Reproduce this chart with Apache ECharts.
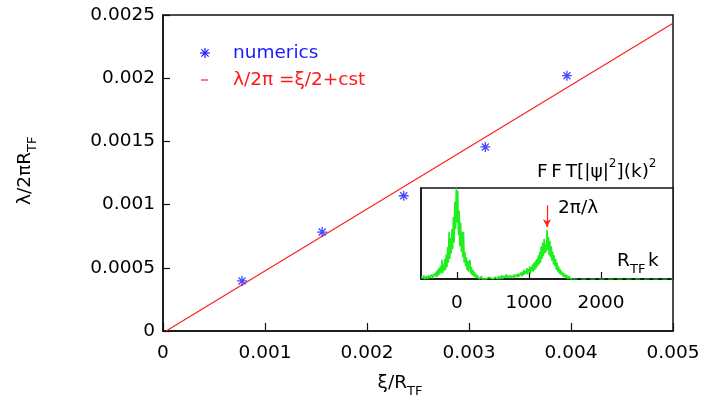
<!DOCTYPE html>
<html>
<head>
<meta charset="utf-8">
<script src="https://cdn.jsdelivr.net/npm/echarts@6/dist/echarts.min.js"></script>
<style>html,body{margin:0;padding:0;background:#fff}#c{width:710px;height:405px}</style>
</head>
<body>
<div id="c"></div>
<script>
// Main plot data
const xiValues = [0.000775, 0.00156, 0.00236, 0.00316, 0.00396];
const lambdaValues = [0.000396, 0.000783, 0.00107, 0.001456, 0.00202];
const fitX = [0.00003, 0.005];
const fitY = [0, 0.002435];

// Inset spectrum data (R_TF k from -500 in steps of 10)
const specStart = -500;
const specStep = 10;
const specValues = [
  0.02,0.00,0.03,0.01,0.04,0.00,0.02,0.01,0.03,0.00, 0.02,0.04,0.01,0.03,0.00,0.05,0.01,0.03,0.02,0.06,
  0.03,0.08,0.02,0.10,0.04,0.12,0.05,0.14,0.07,0.21, 0.06,0.16,0.09,0.22,0.10,0.27,0.13,0.35,0.18,0.52,
  0.22,0.45,0.28,0.55,0.33,0.68,0.40,0.85,0.55,1.00, 0.62,0.97,0.48,0.75,0.36,0.62,0.30,0.52,0.24,0.52,
  0.18,0.30,0.14,0.24,0.10,0.20,0.08,0.18,0.21,0.06, 0.13,0.04,0.10,0.03,0.08,0.02,0.06,0.01,0.04,0.02,
  0.03,0.00,0.02,0.01,0.03,0.00,0.01,0.02,0.00,0.01, 0.02,0.00,0.01,0.00,0.02,0.01,0.00,0.01,0.00,0.01,
  0.00,0.01,0.00,0.02,0.00,0.01,0.00,0.01,0.03,0.00, 0.02,0.01,0.04,0.00,0.03,0.01,0.04,0.02,0.05,0.01,
  0.04,0.02,0.05,0.01,0.04,0.02,0.06,0.01,0.03,0.05, 0.02,0.04,0.01,0.05,0.02,0.06,0.03,0.05,0.02,0.07,
  0.03,0.08,0.04,0.10,0.05,0.09,0.06,0.12,0.05,0.11, 0.07,0.14,0.06,0.13,0.09,0.16,0.08,0.18,0.10,0.20,
  0.12,0.22,0.14,0.26,0.16,0.30,0.18,0.36,0.22,0.40, 0.25,0.44,0.28,0.38,0.30,0.54,0.32,0.46,0.26,0.42,
  0.24,0.36,0.20,0.30,0.16,0.26,0.14,0.22,0.10,0.18, 0.08,0.14,0.06,0.11,0.05,0.09,0.04,0.07,0.02,0.06,
  0.02,0.05,0.01,0.04,0.00,0.03,0.01,0.02,0.00,0.01,0.00
];
const zeroTailX = [1600, 3000];
const insetTicks = [0, 1000, 2000];
const arrowK = 1250;
const arrowFrom = 0.81, arrowTo = 0.57;

const FONT = 'DejaVu Sans';
const FS = 18.5;
const F = FS + 'px "' + FONT + '"';
const FSUB = '13px "' + FONT + '"';

const specData = specValues.map((v, i) => [specStart + i * specStep, v]);
const starPath = 'path://M5,0L5,10M0,5L10,5M1.5,1.5L8.5,8.5M1.5,8.5L8.5,1.5';

function starLines(cx, cy, r, color) {
  const d = r * 0.72;
  return [[0, -r, 0, r], [-r, 0, r, 0], [-d, -d, d, d], [-d, d, d, -d]].map(s => ({
    type: 'line', shape: {x1: cx + s[0], y1: cy + s[1], x2: cx + s[2], y2: cy + s[3]},
    style: {stroke: color, lineWidth: 1.2}
  }));
}

const chart = echarts.init(document.getElementById('c'), null, {renderer: 'canvas'});
chart.setOption({
  animation: false,
  backgroundColor: '#fff',
  grid: [
    {left: 163, right: 37, top: 15, bottom: 74, show: true, borderColor: '#111', borderWidth: 1.5, backgroundColor: '#fff'},
    {left: 421, right: 37, top: 188, bottom: 126, show: true, borderColor: '#111', borderWidth: 1.5, backgroundColor: '#fff', z: 5}
  ],
  xAxis: [
    {gridIndex: 0, type: 'value', min: 0, max: 0.005, interval: 0.001,
     axisLine: {show: true, onZero: false, lineStyle: {color: '#111', width: 1.5}},
     axisTick: {show: true, inside: true, length: 8, lineStyle: {color: '#111', width: 1.2}},
     axisLabel: {color: '#000', fontFamily: FONT, fontSize: FS, margin: 13},
     splitLine: {show: false}},
    {gridIndex: 1, type: 'value', min: -500, max: 3000, z: 6,
     axisLine: {show: true, onZero: false, lineStyle: {color: '#111', width: 1.5}},
     axisTick: {show: true, inside: true, length: 7, customValues: insetTicks, lineStyle: {color: '#111', width: 1.2}},
     axisLabel: {color: '#000', fontFamily: FONT, fontSize: FS, margin: 15, customValues: insetTicks,
       formatter: v => String(v)},
     splitLine: {show: false}}
  ],
  yAxis: [
    {gridIndex: 0, type: 'value', min: 0, max: 0.0025, interval: 0.0005,
     axisLine: {show: true, onZero: false, lineStyle: {color: '#111', width: 1.5}},
     axisTick: {show: true, inside: true, length: 7, lineStyle: {color: '#111', width: 1.2}},
     axisLabel: {color: '#000', fontFamily: FONT, fontSize: FS, margin: 8},
     splitLine: {show: false}},
    {gridIndex: 1, type: 'value', min: 0, max: 1, z: 6,
     axisLine: {show: true, onZero: false, lineStyle: {color: '#111', width: 1.5}},
     axisTick: {show: false}, axisLabel: {show: false}, splitLine: {show: false}}
  ],
  series: [
    {type: 'line', xAxisIndex: 0, yAxisIndex: 0, data: fitX.map((x, i) => [x, fitY[i]]),
     showSymbol: false, lineStyle: {color: '#ff2020', width: 1.2}, z: 3},
    {type: 'scatter', xAxisIndex: 0, yAxisIndex: 0, data: xiValues.map((x, i) => [x, lambdaValues[i]]),
     symbol: starPath, symbolSize: 10,
     itemStyle: {color: 'rgba(0,0,0,0)', borderColor: '#1a1aff', borderWidth: 1.3}, z: 4},
    {type: 'line', xAxisIndex: 1, yAxisIndex: 1, data: specData, showSymbol: false,
     lineStyle: {color: '#1fee1f', width: 1.6}, z: 10},
    {type: 'line', xAxisIndex: 1, yAxisIndex: 1, data: zeroTailX.map(x => [x, 0]), showSymbol: false,
     lineStyle: {color: '#0c8a0c', width: 2, type: [5, 4]}, z: 10},
    {type: 'line', xAxisIndex: 1, yAxisIndex: 1, data: [], z: 11,
     markLine: {silent: true, symbol: ['none', 'arrow'], symbolSize: [6, 8], label: {show: false},
       lineStyle: {color: '#ff2020', width: 1.2, type: 'solid'},
       data: [[{coord: [arrowK, arrowFrom]}, {coord: [arrowK, arrowTo]}]]}}
  ],
  graphic: [
    // legend
    ...starLines(205, 53, 5, '#1a1aff'),
    {type: 'text', x: 233, y: 53, style: {text: 'numerics', fill: '#1a1aff', font: F, align: 'left', verticalAlign: 'middle'}},
    {type: 'line', shape: {x1: 201, y1: 80, x2: 208, y2: 80}, style: {stroke: '#ff2020', lineWidth: 1.2}},
    {type: 'text', x: 233, y: 80, style: {text: 'λ/2π =ξ/2+cst', fill: '#ff1a1a', font: F, align: 'left', verticalAlign: 'middle'}},
    // x axis name
    {type: 'text', x: 407, y: 383, style: {text: 'ξ/R', fill: '#000', font: F, align: 'right', verticalAlign: 'middle'}},
    {type: 'text', x: 407, y: 392, style: {text: 'TF', fill: '#000', font: FSUB, align: 'left', verticalAlign: 'middle'}},
    // y axis name (rotated)
    {type: 'text', x: 25, y: 152, rotation: Math.PI / 2, style: {text: 'λ/2πR', fill: '#000', font: F, align: 'right', verticalAlign: 'middle'}},
    {type: 'text', x: 33, y: 152, rotation: Math.PI / 2, style: {text: 'TF', fill: '#000', font: FSUB, align: 'left', verticalAlign: 'middle'}},
    // inset labels
    {type: 'text', x: 537, y: 170, z: 20, style: {
      text: '{n|F\u2009F\u2009T[|ψ|}{s|2}{n|](k)}{s|2}', align: 'left', verticalAlign: 'middle',
      rich: {n: {fontFamily: FONT, fontSize: FS, lineHeight: 24, fill: '#000', color: '#000', verticalAlign: 'bottom'},
             s: {fontFamily: FONT, fontSize: 12, lineHeight: 12, fill: '#000', color: '#000', verticalAlign: 'top'}}}},
    {type: 'text', x: 558, y: 208, z: 20, style: {text: '2π/λ', fill: '#000', font: F, align: 'left', verticalAlign: 'middle'}},
    {type: 'text', x: 617, y: 261, z: 20, style: {text: 'R', fill: '#000', font: F, align: 'left', verticalAlign: 'middle'}},
    {type: 'text', x: 630, y: 270, z: 20, style: {text: 'TF', fill: '#000', font: FSUB, align: 'left', verticalAlign: 'middle'}},
    {type: 'text', x: 648, y: 261, z: 20, style: {text: 'k', fill: '#000', font: F, align: 'left', verticalAlign: 'middle'}}
  ]
});
</script>
</body>
</html>
